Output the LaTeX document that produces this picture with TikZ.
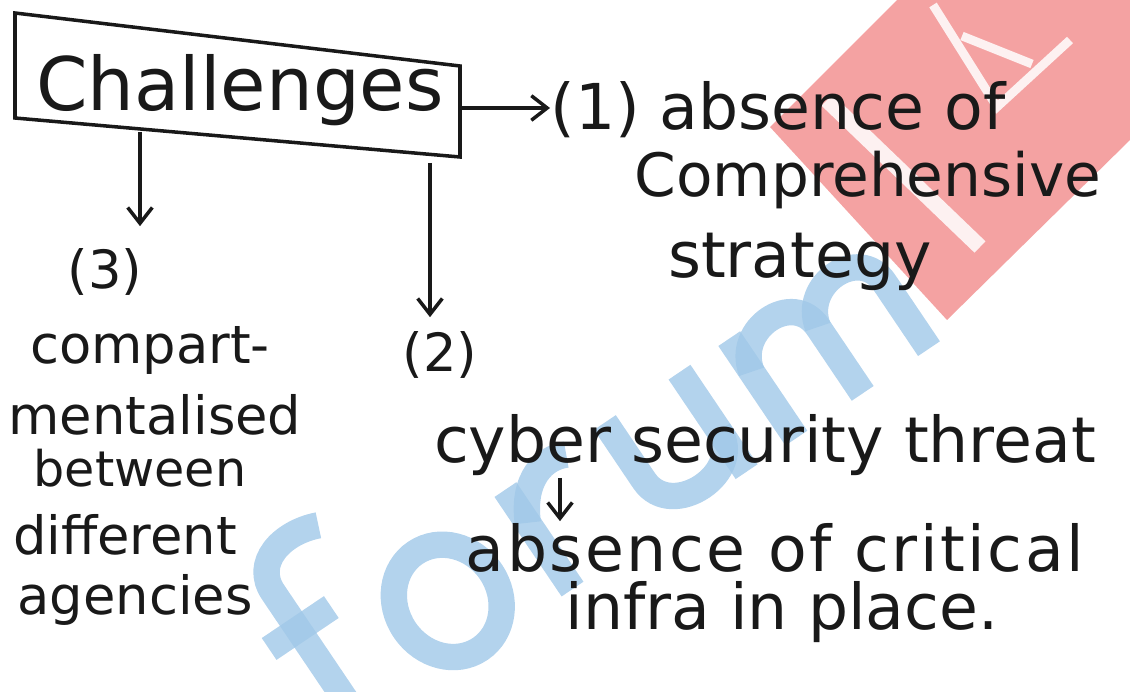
\documentclass[tikz,border=0pt]{standalone}
\usepackage{fontspec}
\setmainfont{DejaVu Sans}
\usetikzlibrary{arrows.meta,calc}
\definecolor{wmred}{RGB}{244,162,162}
\definecolor{wmblue}{RGB}{160,200,232}
\tikzset{
  ink/.style={line width=2pt, draw=black!90},
  arr/.style={ink, -{Straight Barb[length=9pt,width=14pt,line width=2pt]}},
  hw/.style={inner sep=0pt, font=\fontsize{30}{34}\selectfont, text=black!90},
  hwr/.style={inner sep=0pt, font=\fontsize{36}{40}\selectfont, text=black!90},
  title/.style={inner sep=0pt, font=\fontsize{42}{48}\selectfont, text=black!90},
  wmstroke/.style={line width=15pt, draw=wmblue, line cap=butt, line join=miter},
  wmwhite/.style={line width=8pt, draw=white!85!wmred, line cap=butt},
}
\begin{document}
\begin{tikzpicture}[x=0.02cm,y=-0.02cm]
\useasboundingbox (0,0) rectangle (1130,692);
% ---- watermark (faint) ----
\fill[wmred] (897,0) -- (1130,0) -- (1130,140) -- (947,320) -- (770,127) -- cycle;
\draw[wmwhite, line width=9pt] (827,100) -- (980,247);
\draw[wmwhite, line width=5pt] (933,5) -- (997,107) -- (1070,40);
\draw[wmwhite, line width=5pt] (962,36) -- (1032,64);
\begin{scope}[shift={(672,522)}, rotate=34, scale=1.0, opacity=0.8]
  % f
  \draw[wmstroke] (-370,20) -- (-370,-165) .. controls (-370,-200) and (-330,-210) .. (-295,-195);
  \draw[wmstroke] (-405,-120) -- (-330,-120);
  % o
  \draw[wmstroke] (-230,-60) ellipse (52 and 58);
  % r
  \draw[wmstroke] (-120,0) -- (-120,-120);
  \draw[wmstroke] (-120,-80) .. controls (-100,-120) and (-70,-125) .. (-50,-115);
  % u
  \draw[wmstroke] (0,-120) -- (0,-50) .. controls (0,0) and (90,0) .. (90,-50);
  \draw[wmstroke] (90,-120) -- (90,0);
  % m
  \draw[wmstroke] (150,0) -- (150,-120);
  \draw[wmstroke] (150,-80) .. controls (160,-125) and (230,-125) .. (230,-80) -- (230,0);
  \draw[wmstroke] (230,-80) .. controls (240,-125) and (310,-125) .. (310,-80) -- (310,0);
\end{scope}
% ---- title box (slanted, hand drawn) ----
\node[title] (box) at (240,90) {Challenges};
\coordinate (bTL) at (15,13);
\coordinate (bTR) at (460,66);
\coordinate (bBR) at (460,157);
\coordinate (bBL) at (15,118);
\draw[ink] (bTL) -- (bTR) -- (bBR) -- (bBL) -- cycle;
% ---- branch 1 ----
\node[hwr, anchor=west] (n1) at (550,110) {(1) absence of};
\node[hwr, font=\fontsize{34}{40}\selectfont] (n1b) at (868,180) {Comprehensive};
\node[hwr] (n1c) at (800,262) {strategy};
\coordinate (e1) at (460,108);
\draw[arr] (e1) -- (n1.west |- e1);
% ---- branch 3 ----
\coordinate (a3) at (140,132);
\node[hw] (n3) at (105,272) {(3)};
\node[hw] (n3a) at (150,350) {compart-};
\node[hw] (n3b) at (155,415) {mentalised};
\node[hw, font=\fontsize{28}{34}\selectfont] (n3c) at (140,468) {between};
\node[hw] (n3d) at (125,535) {different};
\node[hw] (n3e) at (135,600) {agencies};
\draw[arr] (a3) -- ($(n3.north -| a3)+(0,-22)$);
% ---- branch 2 ----
\coordinate (a2) at (430,163);
\node[hw] (n2) at (440,355) {(2)};
\node[hwr] (n2a) at (765,445) {cyber security threat};
\node[hwr, font=\fontsize{36}{40}\selectfont\addfontfeature{LetterSpace=4}] (n2b) at (775,548) {absence of critical};
\node[hwr] (n2c) at (782,612) {infra in place.};
\draw[arr] (a2) -- ($(n2.north -| a2)+(0,-14)$);
\coordinate (a4) at (560,0);
\draw[arr] ($(n2a.south -| a4)+(0,2)$) -- ($(n2b.north -| a4)+(0,-2)$);
\end{tikzpicture}
\end{document}
